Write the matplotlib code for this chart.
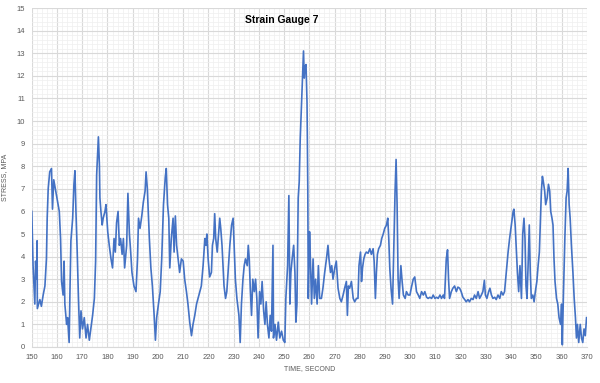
import matplotlib
matplotlib.use('Agg')
import matplotlib.pyplot as plt
from matplotlib.ticker import MultipleLocator

# time in seconds, stress in MPa
time_s = [
    150.0, 150.5, 151.2, 151.5, 151.9, 152.1, 152.2, 153.2, 153.8, 154.5,
    155.2, 155.8, 156.1, 156.5, 157.1, 157.8, 158.2, 158.7, 159.5, 160.0,
    160.9, 161.4, 161.8, 162.4, 162.8, 163.1, 163.8, 164.2, 164.8, 165.1,
    165.5, 166.2, 166.7, 167.1, 167.5, 168.0, 168.5, 169.0, 169.5, 170.1,
    170.8, 171.5, 172.1, 172.8, 173.4, 174.1, 174.8, 175.3, 175.7, 176.4,
    176.8, 177.0, 177.4, 177.9, 178.3, 179.0, 179.4, 180.1, 180.7, 181.4,
    182.0, 182.6, 183.1, 183.6, 184.2, 184.7, 185.2, 185.8, 186.3, 186.8,
    187.6, 188.1, 188.7, 189.2, 189.7, 190.5, 191.3, 191.9, 192.3, 192.9,
    193.6, 194.2, 194.9, 195.3, 195.8, 196.6, 197.2, 197.8, 198.5, 199.0,
    199.5, 200.2, 200.9, 201.5, 202.2, 202.9, 203.3, 203.8, 204.3,
    204.7, 205.3, 206.0, 206.4, 206.9, 207.4, 208.0, 208.6, 209.3, 210.0,
    210.6, 211.3, 211.9, 212.6, 213.3, 213.9, 214.6, 215.3, 215.9, 216.6,
    217.2, 217.9, 218.6, 219.0, 219.4, 219.9, 220.5, 221.2, 221.6, 222.1,
    222.5, 222.9, 223.5, 223.9, 224.5, 224.9, 225.4, 225.8, 226.2, 226.8,
    227.3, 227.8, 228.5, 229.2, 229.8, 230.2, 230.7, 231.3, 232.1, 232.6,
    233.1, 233.7, 234.2, 234.7, 235.4, 235.8, 236.2, 236.6, 237.1, 237.6,
    238.2, 238.7, 239.2, 239.7, 240.3, 240.8, 241.3, 241.9, 242.4, 242.9,
    243.4, 244.0, 244.5, 245.0, 245.6, 245.8, 246.4, 247.0, 247.7, 248.3,
    249.0, 249.7, 250.3, 250.7, 251.4, 251.9, 252.3, 252.7, 253.2, 253.8,
    254.3, 254.7, 255.1, 255.6, 256.0, 256.4, 257.0, 257.4, 257.7, 258.0,
    258.3, 258.7, 259.1, 259.4, 259.6,
    260.1, 260.5, 260.9, 261.5, 262.0, 262.5, 263.1, 263.6, 264.1, 264.8,
    265.4, 266.1, 266.8, 267.4, 267.8, 268.4, 268.9, 269.4, 270.1, 270.7,
    271.4, 272.1, 272.7, 273.4, 274.0, 274.7, 275.1, 275.5, 276.0, 276.7,
    277.4, 278.0, 278.7, 279.3, 279.7, 280.3, 280.7, 281.1, 281.6, 282.1,
    282.6, 283.3, 284.0, 284.6, 285.3, 285.7, 286.2, 286.6, 287.0, 287.5,
    288.2, 288.7, 289.3, 289.9, 290.6, 291.1, 291.5, 291.9, 292.4, 293.0,
    293.5, 294.0, 294.4, 294.8, 295.2, 295.6, 296.3, 296.8, 297.3, 298.0,
    298.5, 299.2, 299.9, 300.4, 301.2, 301.8, 302.5, 303.2, 303.8, 304.5,
    305.2, 305.8, 306.5, 307.1, 307.8, 308.5, 309.1, 309.8, 310.5, 311.1,
    311.8, 312.4, 313.1,
    313.6, 314.3, 314.8, 315.2, 315.6, 316.3, 316.9, 317.6, 318.3, 318.9,
    319.6, 320.2, 320.9, 321.6, 322.2, 322.9, 323.5, 324.2, 324.9, 325.5,
    326.2, 326.9, 327.5, 328.2, 328.8, 329.4, 329.8, 330.4, 331.1, 331.6,
    332.2, 332.8, 333.5, 334.1, 334.8, 335.5, 336.1, 336.8, 337.4, 338.1,
    338.8, 339.4, 340.1, 340.8, 341.1, 341.6, 342.0, 342.5, 343.0, 343.5,
    344.1, 344.6, 345.1, 345.5, 345.9, 346.3, 346.7, 347.2, 347.6, 348.0,
    348.6, 349.1, 349.6, 350.2, 350.7, 351.2, 351.6, 352.0, 352.4, 352.8,
    353.3, 353.7, 354.3, 354.8, 355.3, 355.7, 356.2, 356.6, 357.0, 357.4,
    358.0, 358.5, 359.0, 359.6, 360.0, 360.3, 360.7, 361.3, 361.8, 362.2,
    362.6, 363.0, 363.4, 363.9, 364.5, 365.0, 365.5, 365.9, 366.3, 366.8,
    367.4, 367.9, 368.4, 368.9, 369.4, 369.9,
]
stress_mpa = [
    6.0, 3.6, 1.9, 3.8, 3.0, 4.7, 1.7, 2.1, 1.8, 2.3,
    2.7, 3.9, 5.7, 7.0, 7.75, 7.9, 6.1, 7.4, 6.9, 6.6,
    6.0, 4.8, 2.9, 2.3, 3.8, 1.9, 1.0, 1.3, 0.2, 2.3,
    4.7, 5.7, 7.2, 7.8, 6.0, 4.2, 2.15, 0.4, 1.6, 0.8,
    1.3, 0.4, 1.0, 0.3, 0.8, 1.4, 2.15, 3.8, 7.6, 9.3,
    8.05, 6.6, 6.0, 5.4, 5.7, 6.0, 6.3, 5.1, 4.5, 3.9,
    3.5, 4.8, 4.2, 5.5, 6.0, 4.5, 4.8, 4.1, 4.8, 3.5,
    4.5, 6.8, 5.0, 4.2, 3.3, 2.7, 2.45, 3.9, 5.7, 5.25,
    5.8, 6.4, 6.9, 7.75, 7.0, 4.8, 3.5, 2.7, 1.4, 0.3,
    1.3, 1.9, 2.45, 3.9, 6.3, 7.5, 7.9, 6.3, 5.7,
    3.5, 4.8, 5.7, 4.2, 5.8, 4.5, 3.9, 3.3, 3.9, 3.8,
    3.0, 2.45, 1.9, 1.1, 0.5, 1.0, 1.4, 1.9, 2.15, 2.45,
    2.7, 3.6, 4.8, 4.5, 5.0, 3.9, 3.1, 3.3, 4.5, 4.8,
    5.9, 4.8, 4.2, 4.8, 5.7, 5.25, 4.5, 3.6, 2.7, 2.15,
    2.45, 3.3, 4.5, 5.4, 5.7, 4.5, 3.0, 2.15, 1.4, 0.2,
    1.9, 3.0, 3.6, 3.9, 3.6, 4.5, 3.9, 2.6, 1.4, 3.0,
    2.45, 3.0, 2.15, 0.4, 2.45, 1.9, 2.9, 1.6, 1.0, 2.0,
    1.0, 0.4, 1.4, 0.7, 4.5, 0.4, 1.0, 0.3, 1.1, 0.4,
    0.7, 0.3, 0.2, 2.15, 3.6, 6.7, 1.9, 3.3, 3.9, 4.5,
    3.3, 1.1, 1.9, 6.6, 7.3, 9.2, 11.0, 12.2, 13.1, 11.9,
    12.4, 12.5, 10.8, 7.0, 2.15,
    5.1, 3.6, 1.9, 3.9, 2.15, 3.0, 1.9, 3.6, 2.15, 2.15,
    2.6, 3.3, 3.9, 4.5, 3.9, 3.3, 3.6, 3.0, 3.5, 3.8,
    2.6, 2.15, 2.0, 2.3, 2.6, 2.9, 1.4, 2.7, 2.6, 2.9,
    2.15, 2.0, 2.15, 2.15, 3.6, 4.2, 2.9, 3.5, 3.9, 4.1,
    4.2, 4.15, 4.35, 4.1, 4.35, 3.8, 2.15, 3.3, 4.1, 4.35,
    4.5, 4.8, 5.0, 5.25, 5.4, 5.7, 4.8, 3.5, 2.6, 1.9,
    4.5, 6.9, 8.3, 6.3, 3.0, 2.15, 3.6, 2.9, 2.3, 2.15,
    2.45, 2.3, 2.3, 2.6, 3.0, 3.1, 2.45, 2.3, 2.15, 2.45,
    2.3, 2.45, 2.2, 2.15, 2.2, 2.15, 2.3, 2.15, 2.2, 2.15,
    2.3, 2.15, 2.3,
    2.15, 3.9, 4.3, 3.0, 2.15, 2.45, 2.6, 2.7, 2.45, 2.65,
    2.6, 2.45, 2.2, 2.1, 2.0, 2.1, 2.0, 2.15, 2.1, 2.3,
    2.15, 2.45, 2.15, 2.3, 2.45, 2.95, 2.3, 2.15, 2.45, 2.6,
    2.3, 2.15, 2.2, 2.1, 2.3, 2.15, 2.45, 2.3, 2.45, 3.3,
    4.2, 4.8, 5.4, 6.0, 6.1, 5.4, 4.5, 3.3, 2.45, 3.6,
    2.15, 5.0, 5.7, 4.8, 2.7, 2.15, 3.5, 5.4, 3.3, 2.15,
    2.3, 2.0, 2.45, 2.9, 3.6, 4.2, 5.5, 6.9, 7.55, 7.3,
    6.9, 6.3, 6.6, 7.2, 6.9, 6.0, 5.7, 5.4, 3.9, 2.9,
    2.15, 1.9, 1.3, 1.0, 1.9, 0.1, 2.15, 4.8, 6.6, 6.9,
    7.9, 6.3, 5.7, 4.5, 3.3, 2.15, 1.3, 0.4, 1.0, 0.2,
    1.0, 0.4, 0.2, 0.8, 0.5, 1.3,
]

x_ticks = list(range(150, 371, 10))
y_ticks = list(range(0, 16))

plt.rcParams['font.family'] = ['Liberation Sans', 'DejaVu Sans']

fig = plt.figure(figsize=(6.0, 3.83), dpi=100)
ax = fig.add_axes([0.053, 0.094, 0.925, 0.885])

ax.plot(time_s, stress_mpa, color='#4472C4', linewidth=1.2)

ax.set_xlim(150, 370)
ax.set_ylim(0, 15)
ax.set_xticks(x_ticks)
ax.set_yticks(y_ticks)
ax.xaxis.set_minor_locator(MultipleLocator(2))
ax.yaxis.set_minor_locator(MultipleLocator(0.2))
ax.grid(which='major', color='#D9D9D9', linewidth=0.8)
ax.grid(which='minor', color='#EFEFEF', linewidth=0.5)
ax.set_axisbelow(True)
ax.tick_params(which='both', length=0, labelsize=5.5, labelcolor='#595959', pad=5)
for side in ['top', 'right', 'left']:
    ax.spines[side].set_visible(False)
ax.spines['bottom'].set_color('#D9D9D9')

ax.text(0.45, 0.965, 'Strain Gauge 7', transform=ax.transAxes, ha='center', va='center',
        fontsize=7.5, fontweight='bold', color='black')
ax.set_xlabel('TIME, SECOND', fontsize=5, color='#595959', labelpad=3)
ax.set_ylabel('STRESS, MPA', fontsize=5, color='#595959', labelpad=6)

fig.savefig('out.png', dpi=100)
